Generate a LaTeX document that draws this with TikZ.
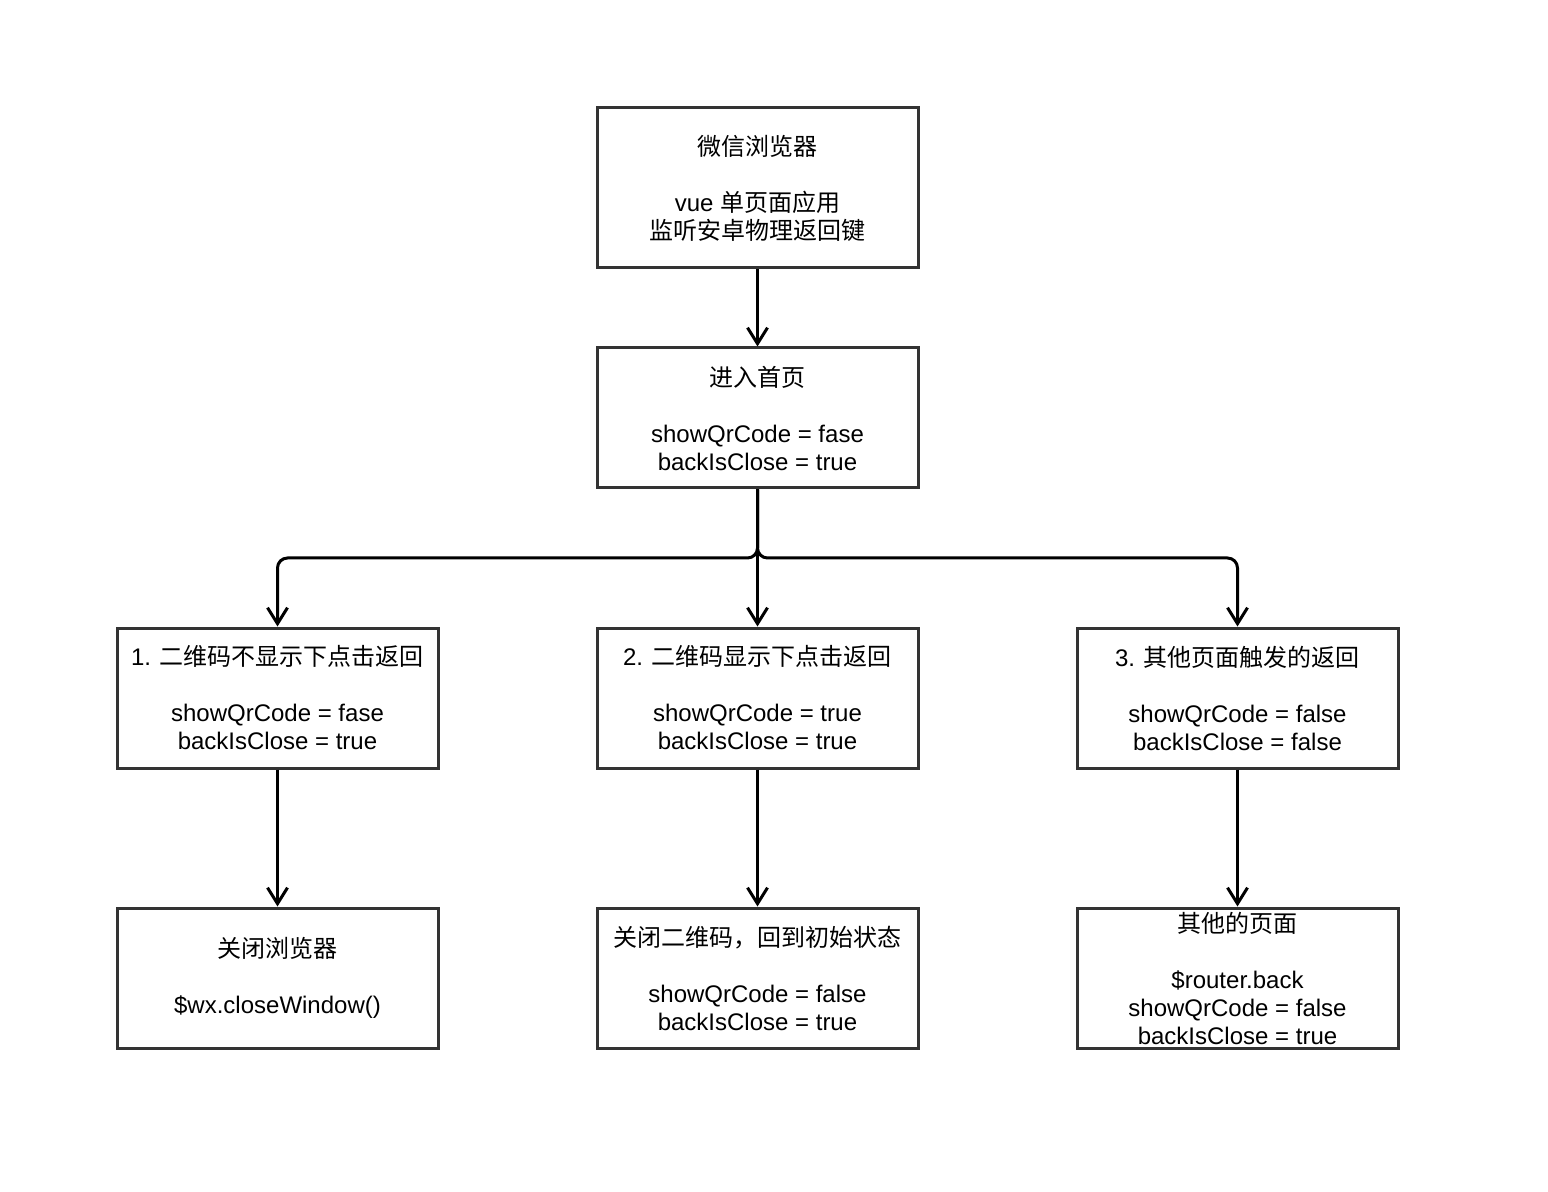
\documentclass[tikz,border=0pt]{standalone}
\usepackage{fontspec}
\setmainfont{Liberation Sans}
\newfontfamily\cjk{Noto Sans CJK SC}
\usetikzlibrary{arrows.meta}

\begin{document}
\begin{tikzpicture}[x=0.5pt, y=-0.5pt,
    box/.style={draw=black!80, line width=1.5pt, minimum width=160.5pt, minimum height=70pt, align=center, inner sep=0pt, font=\fontsize{12pt}{14pt}\selectfont},
    link/.style={-{Straight Barb[length=8pt, width=10pt]}, line width=1.5pt}]
  \useasboundingbox (0,0) rectangle (1548,1192);
  % top rows
  \node[box, minimum height=80pt] (browser) at (757.5,188) {{\cjk 微信浏览器}\\[14pt]vue {\cjk 单页面应用}\\{\cjk 监听安卓物理返回键}};
  \node[box] (home) at (757.5,418) {{\cjk 进入首页}\\[14pt]showQrCode = fase\\backIsClose = true};
  % three cases
  \node[box] (caseA) at (277.5,698) {1. {\cjk 二维码不显示下点击返回}\\[14pt]showQrCode = fase\\backIsClose = true};
  \node[box] (caseB) at (757.5,698) {2. {\cjk 二维码显示下点击返回}\\[14pt]showQrCode = true\\backIsClose = true};
  \node[box] (caseC) at (1237.5,698) {3. {\cjk 其他页面触发的返回}\\[14pt]showQrCode = false\\backIsClose = false};
  % results
  \node[box] (closeA) at (277.5,978) {{\cjk 关闭浏览器}\\[14pt]\$wx.closeWindow()};
  \node[box] (resetB) at (757.5,978) {{\cjk 关闭二维码，回到初始状态}\\[14pt]showQrCode = false\\backIsClose = true};
  \node[box] (backC) at (1237.5,978) {{\cjk 其他的页面}\\[14pt]\$router.back\\showQrCode = false\\backIsClose = true};
  \coordinate (fork) at (757.5,558);
  \draw[link] (browser) -- (home);
  \draw[link] (home) -- (caseB);
  \draw[link, rounded corners=5pt] (home.south) -- (fork) -| (caseA.north);
  \draw[link, rounded corners=5pt] (home.south) -- (fork) -| (caseC.north);
  \draw[link] (caseA) -- (closeA);
  \draw[link] (caseB) -- (resetB);
  \draw[link] (caseC) -- (backC);
\end{tikzpicture}
\end{document}
